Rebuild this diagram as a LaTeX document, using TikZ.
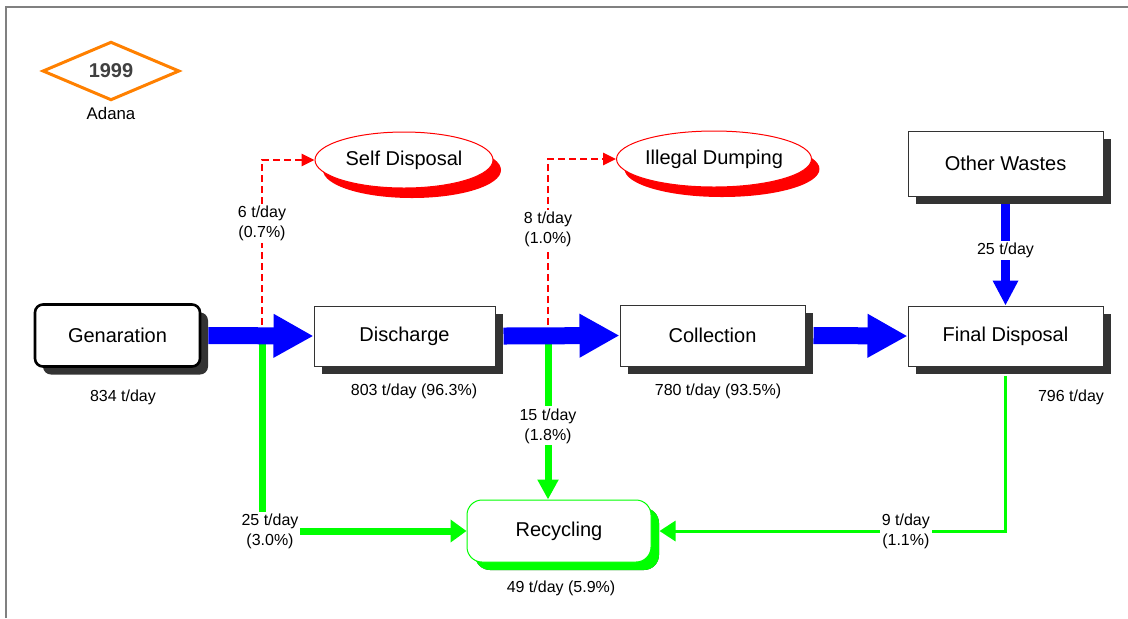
\documentclass[tikz,border=0pt]{standalone}
\usepackage{fontspec}
\setmainfont{Liberation Sans}
\usetikzlibrary{shapes.geometric, shadows, arrows.meta}
\definecolor{flowblue}{RGB}{0,0,255}
\definecolor{flowgreen}{RGB}{0,255,0}
\definecolor{flowred}{RGB}{255,0,0}
\definecolor{yearorange}{RGB}{255,128,0}
\definecolor{shadowgray}{RGB}{51,51,51}
\definecolor{yeartext}{RGB}{64,64,64}
\tikzset{
  procbox/.style={draw=black!80, fill=white, line width=0.5pt, inner sep=0pt,
    font=\fontsize{10}{12}\selectfont,
    drop shadow={shadow xshift=4pt, shadow yshift=-4pt, fill=shadowgray, opacity=1}},
  lossoval/.style={ellipse, draw=flowred, fill=white, line width=0.5pt, inner sep=0pt,
    minimum width=89pt, minimum height=28pt, font=\fontsize{10}{12}\selectfont,
    drop shadow={shadow xshift=4pt, shadow yshift=-5pt, fill=flowred, opacity=1}},
  recbox/.style={procbox, draw=flowgreen, rounded corners=7.5pt,
    drop shadow={shadow xshift=4pt, shadow yshift=-4pt, fill=flowgreen, opacity=1}},
  yearbox/.style={diamond, draw=yearorange, line width=1.5pt, inner sep=0pt,
    minimum width=68.5pt, minimum height=23pt, text=yeartext,
    font=\fontsize{10}{12}\selectfont\bfseries},
  smalltxt/.style={font=\fontsize{8}{10}\selectfont, align=center},
  flowtxt/.style={smalltxt, fill=white, inner sep=1pt},
  mainflow/.style={draw=flowblue, line width=8.5pt, -{Triangle[width=20.5pt,length=20pt]}},
  dumpflow/.style={draw=flowred, line width=1.3pt, dash pattern=on 3.5pt off 2pt,
    -{Triangle[width=6pt,length=6.5pt]}},
  recflow/.style={draw=flowgreen, line width=3.5pt, -{Triangle[width=11pt,length=8pt]}}
}
\begin{document}
\begin{tikzpicture}[x=0.5pt, y=-0.5pt]
\useasboundingbox (0,0) rectangle (1128,618);
\draw[gray, line width=0.75pt] (6,618) -- (6,7) -- (1128,7);

\node[yearbox] (year) at (111,71) {1999};
\node[smalltxt, font=\fontsize{8.4}{10}\selectfont] (city) at (111,113) {Adana};

\node[procbox, draw=black, line width=1.3pt, rounded corners=4pt,
  minimum width=82.5pt, minimum height=31pt] (gen) at (117.5,335.5) {Genaration};
\node[procbox, minimum width=90.5pt, minimum height=30pt] (dis) at (404.5,336) {Discharge};
\node[procbox, minimum width=92.5pt, minimum height=30.5pt] (col) at (712.5,335.5) {Collection};
\node[procbox, minimum width=97.5pt, minimum height=30pt] (fin) at (1005.5,336) {Final Disposal};
\node[procbox, minimum width=97.5pt, minimum height=32.5pt] (oth) at (1005.5,163.5) {Other Wastes};
\node[recbox, minimum width=92pt, minimum height=31pt] (rec) at (559,531) {Recycling};
\node[lossoval] (self) at (404,160) {Self Disposal};
\node[lossoval, minimum width=91.5pt] (ill) at (714,159) {Illegal Dumping};

\node[smalltxt] (gentxt) at (123,397) {834 t/day};
\node[smalltxt] (distxt) at (414,391) {803 t/day (96.3\%)};
\node[smalltxt] (coltxt) at (718,391) {780 t/day (93.5\%)};
\node[smalltxt] (fintxt) at (1071,397) {796 t/day};
\node[smalltxt] (rectxt) at (561,588) {49 t/day (5.9\%)};

\coordinate (sp1) at (262,336);
\coordinate (sp2) at (548,336);

\draw[dumpflow] (sp1) |- (self.west) node[flowtxt, pos=0.32] {6 t/day\\(0.7\%)};
\draw[dumpflow] (sp2) |- (ill.west) node[flowtxt, pos=0.3] {8 t/day\\(1.0\%)};
\draw[recflow] (sp1) |- (rec.west) node[flowtxt, pos=0.5, xshift=4pt] {25 t/day\\(3.0\%)};
\draw[recflow, -{Triangle[width=10pt,length=10pt]}] (sp2) -- (sp2 |- rec.north)
  node[flowtxt, pos=0.55] {15 t/day\\(1.8\%)};
\draw[recflow, line width=1.5pt, -{Triangle[width=10pt,length=8pt]}]
  ([yshift=-4.5pt]fin.south) |- ([xshift=4pt]rec.east)
  node[flowtxt, pos=0.644] {9 t/day\\(1.1\%)};

\draw[mainflow] ([xshift=3.5pt]gen.east) -- (dis.west);
\draw[mainflow] ([xshift=4pt]dis.east) -- (col.west);
\draw[mainflow] ([xshift=4pt]col.east) -- (fin.west);
\draw[mainflow, line width=4.5pt, -{Triangle[width=12pt,length=12.5pt]}]
  ([yshift=-3.5pt]oth.south) -- (fin.north) node[flowtxt, midway, yshift=2pt] {25 t/day};
\end{tikzpicture}
\end{document}
